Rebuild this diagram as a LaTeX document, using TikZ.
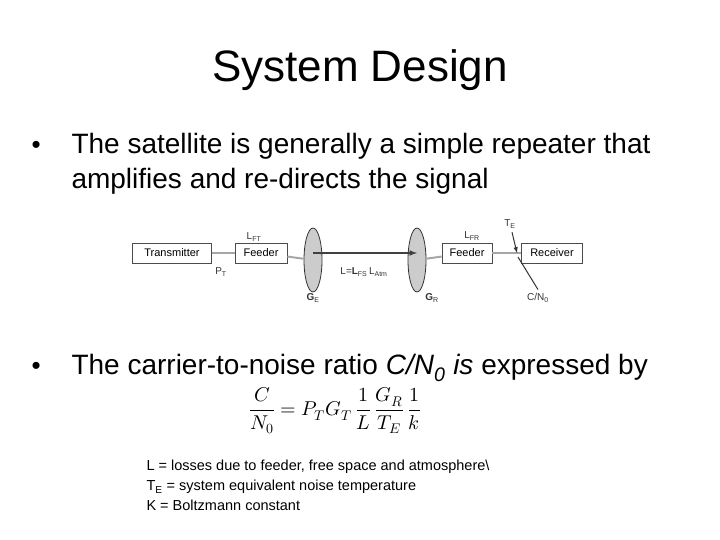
\documentclass[tikz,border=0pt]{standalone}
\usepackage{fontspec}
\setmainfont{Liberation Sans}
\usepackage{amsmath}
\usepackage{unicode-math}
\setmathfont{Latin Modern Math}
\usetikzlibrary{shapes.geometric}
\begin{document}
\begin{tikzpicture}[x=1pt,y=-1pt,
  blk/.style={draw=black!70,line width=0.8pt,inner sep=2pt,minimum height=20pt,font=\fontsize{11}{12}\selectfont},
  lbl/.style={font=\fontsize{10}{11}\selectfont,text=black!80},
  wire/.style={draw=black!35,line width=2pt},
  ant/.style={draw=black!80,fill=black!20,ellipse,minimum width=18pt,minimum height=64pt,line width=0.8pt}]
\useasboundingbox (0,0) rectangle (720,540);
\node[font=\fontsize{44}{48}\selectfont] (title) at (360,70) {System Design};
\node[anchor=west,font=\fontsize{26}{28}\selectfont] (b1) at (28,147) {•};
\node[anchor=west,align=left,font=\fontsize{28}{35}\selectfont] (t1) at (68,164) {The satellite is generally a simple repeater that\\amplifies and re-directs the signal};
\node[anchor=west,font=\fontsize{26}{28}\selectfont] (b2) at (28,368) {•};
\node[anchor=west,font=\fontsize{28}{30}\selectfont] (t2) at (68,368) {The carrier-to-noise ratio \textit{C/N}\textsubscript{\textit{0}} \textit{is} expressed by};
\node (eq) at (335,411) {\fontsize{20}{24}\selectfont $\dfrac{C}{N_0}=P_T G_T\,\dfrac{1}{L}\,\dfrac{G_R}{T_E}\,\dfrac{1}{k}$};
\node[anchor=north west,align=left,font=\fontsize{14.5}{20}\selectfont] (notes) at (143,456) {L = losses due to feeder, free space and atmosphere\textbackslash\\T\textsubscript{E} = system equivalent noise temperature\\K = Boltzmann constant};
% diagram
\node[blk,minimum width=79pt] (tx) at (172,253) {Transmitter};
\node[blk,minimum width=52pt] (f1) at (261,253) {Feeder};
\node[ant] (a1) at (313,260) {};
\node[ant] (a2) at (417,260) {};
\node[blk,minimum width=50pt] (f2) at (467,253) {Feeder};
\node[blk,minimum width=61pt] (rx) at (552,253) {Receiver};
\coordinate (j) at (517,253);
\draw[wire] (tx) -- (f1);
\draw[wire] (f1) -- (a1);
\draw[wire] (a2) -- (f2);
\draw[wire] (f2) -- (rx);
\draw[black!75,line width=1.5pt,-latex] (a1.center |- tx) -- (a2.center |- tx);
\node[lbl] (pt) at (221,272) {P\textsubscript{T}};
\node[lbl] (lft) at (254,237) {L\textsubscript{FT}};
\node[lbl] (lfr) at (472,236) {L\textsubscript{FR}};
\node[lbl] (l) at (364,272) {L=\textbf{L}\textsubscript{FS}\,L\textsubscript{Atm}};
\node[lbl] (ge) at (313,298) {\textbf{G}\textsubscript{E}};
\node[lbl] (gr) at (432,298) {\textbf{G}\textsubscript{R}};
\node[lbl] (te) at (510,224) {T\textsubscript{E}};
\node[lbl] (cn) at (538,298) {C/N\textsubscript{0}};
\draw[black!80,line width=1pt,-latex] (te) -- (j);
\draw[black!80,line width=1pt] (cn.north) -- ([shift={(1,4)}]j);
\end{tikzpicture}
\end{document}
